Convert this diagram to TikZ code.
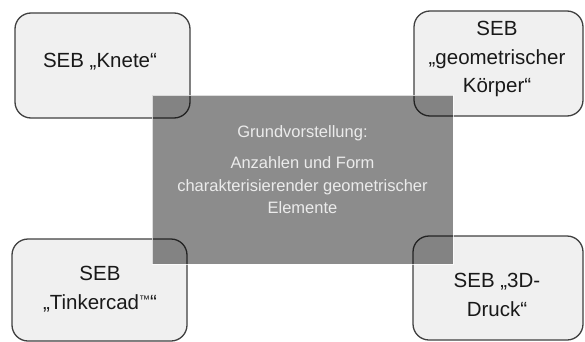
\documentclass[tikz,border=0pt]{standalone}
\usepackage{fontspec}
\setmainfont{Liberation Sans}
\newcommand{\tmsign}{\raisebox{0.55ex}{\fontsize{11}{11}\selectfont ™}}
\begin{document}
\begin{tikzpicture}[x=1pt,y=1pt,
  sebbox/.style={draw=black!75, line width=1.3pt, fill=black!6, rounded corners=16pt, inner sep=0pt},
  sebtext/.style={align=center, font=\fontsize{20.5}{28.5}\selectfont, text=black!90},
  corebox/.style={fill=black, fill opacity=0.45, draw=white, draw opacity=0.7, line width=0.8pt, inner sep=0pt},
  coretext/.style={align=center, font=\fontsize{16.5}{22.5}\selectfont, text=black!8}]
\useasboundingbox (0,0) rectangle (585,341);
\begin{scope}
\clip (0,0) rectangle (585,341);
% four surrounding boxes
\node[sebbox, minimum width=175, minimum height=105] (knete) at (102.5,275.5) {};
\node[sebbox, minimum width=169, minimum height=105] (koerper) at (498.5,277.5) {};
\node[sebbox, minimum width=175, minimum height=102] (tinker) at (99.5,51) {};
\node[sebbox, minimum width=170, minimum height=104] (druck) at (498,53) {};
% their labels
\node[sebtext] (knete-t) at (100,279) {SEB „Knete“};
\node[sebtext] (koerper-t) at (497,282) {SEB\\„geometrischer\\Körper“};
\node[sebtext] (tinker-t) at (100,52) {SEB\\„Tinkercad\tmsign“};
\node[sebtext] (druck-t) at (497,46) {SEB „3D-\\Druck“};
% translucent central box on top
\node[corebox, minimum width=301, minimum height=169] (core) at (302.5,161.5) {};
\node[coretext] (core-t) at (302.5,171.5) {Grundvorstellung:\\[9pt]Anzahlen und Form\\charakterisierender geometrischer\\Elemente};
\end{scope}
\end{tikzpicture}
\end{document}
